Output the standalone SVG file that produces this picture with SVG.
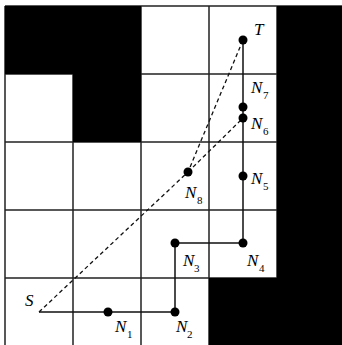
<svg xmlns="http://www.w3.org/2000/svg" width="342" height="345" viewBox="0 0 342 345">
<style>
.blk{fill:#000}
.grid{stroke:#222;stroke-width:1.5;fill:none}
.path{stroke:#111;stroke-width:1.5;fill:none}
.dash{stroke:#111;stroke-width:1.3;fill:none;stroke-dasharray:4 3}
.dot{fill:#000}
.lbl{font-family:"Liberation Serif",serif;font-style:italic;font-size:17px;fill:#000}
.sub{font-family:"Liberation Serif",serif;font-size:11px;fill:#000}
</style>
<rect width="342" height="345" fill="#fff"/>
<g id="grid">
<path class="grid" d="M5 6V345M73 6V345M141 6V345M209 6V345M277 6V345M5 6H342M5 74H342M5 142H342M5 210H342M5 278H342"/>
<rect class="blk" x="5" y="6" width="136" height="68"/>
<rect class="blk" x="73" y="73" width="68" height="69"/>
<rect class="blk" x="277" y="6" width="65" height="339"/>
<rect class="blk" x="209" y="278" width="133" height="67"/>
</g>
<g id="connectors">
<path class="path" d="M39 312H175V243H243V40"/>
<path class="dash" d="M39 312L188 172L243 40M188 172L243 118"/>
</g>
<g id="S"><text class="lbl" x="25" y="306">S</text></g>
<g id="N1"><circle class="dot" cx="108" cy="312" r="4.5"/><text class="lbl" x="115" y="332">N</text><text class="sub" x="127" y="338">1</text></g>
<g id="N2"><circle class="dot" cx="175" cy="312" r="4.5"/><text class="lbl" x="176" y="332">N</text><text class="sub" x="187" y="338">2</text></g>
<g id="N3"><circle class="dot" cx="175" cy="243" r="4.5"/><text class="lbl" x="183" y="266">N</text><text class="sub" x="194" y="272">3</text></g>
<g id="N4"><circle class="dot" cx="243" cy="243" r="4.5"/><text class="lbl" x="247" y="266">N</text><text class="sub" x="259" y="272">4</text></g>
<g id="N5"><circle class="dot" cx="243" cy="176" r="4.5"/><text class="lbl" x="251" y="184">N</text><text class="sub" x="263" y="190">5</text></g>
<g id="N6"><circle class="dot" cx="243" cy="118" r="4.5"/><text class="lbl" x="251" y="129">N</text><text class="sub" x="263" y="135">6</text></g>
<g id="N7"><circle class="dot" cx="243" cy="107" r="4.5"/><text class="lbl" x="251" y="93">N</text><text class="sub" x="263" y="99">7</text></g>
<g id="N8"><circle class="dot" cx="188" cy="172" r="4.5"/><text class="lbl" x="185" y="198">N</text><text class="sub" x="197" y="204">8</text></g>
<g id="T"><circle class="dot" cx="243" cy="40" r="4.5"/><text class="lbl" x="254" y="35">T</text></g>
</svg>
